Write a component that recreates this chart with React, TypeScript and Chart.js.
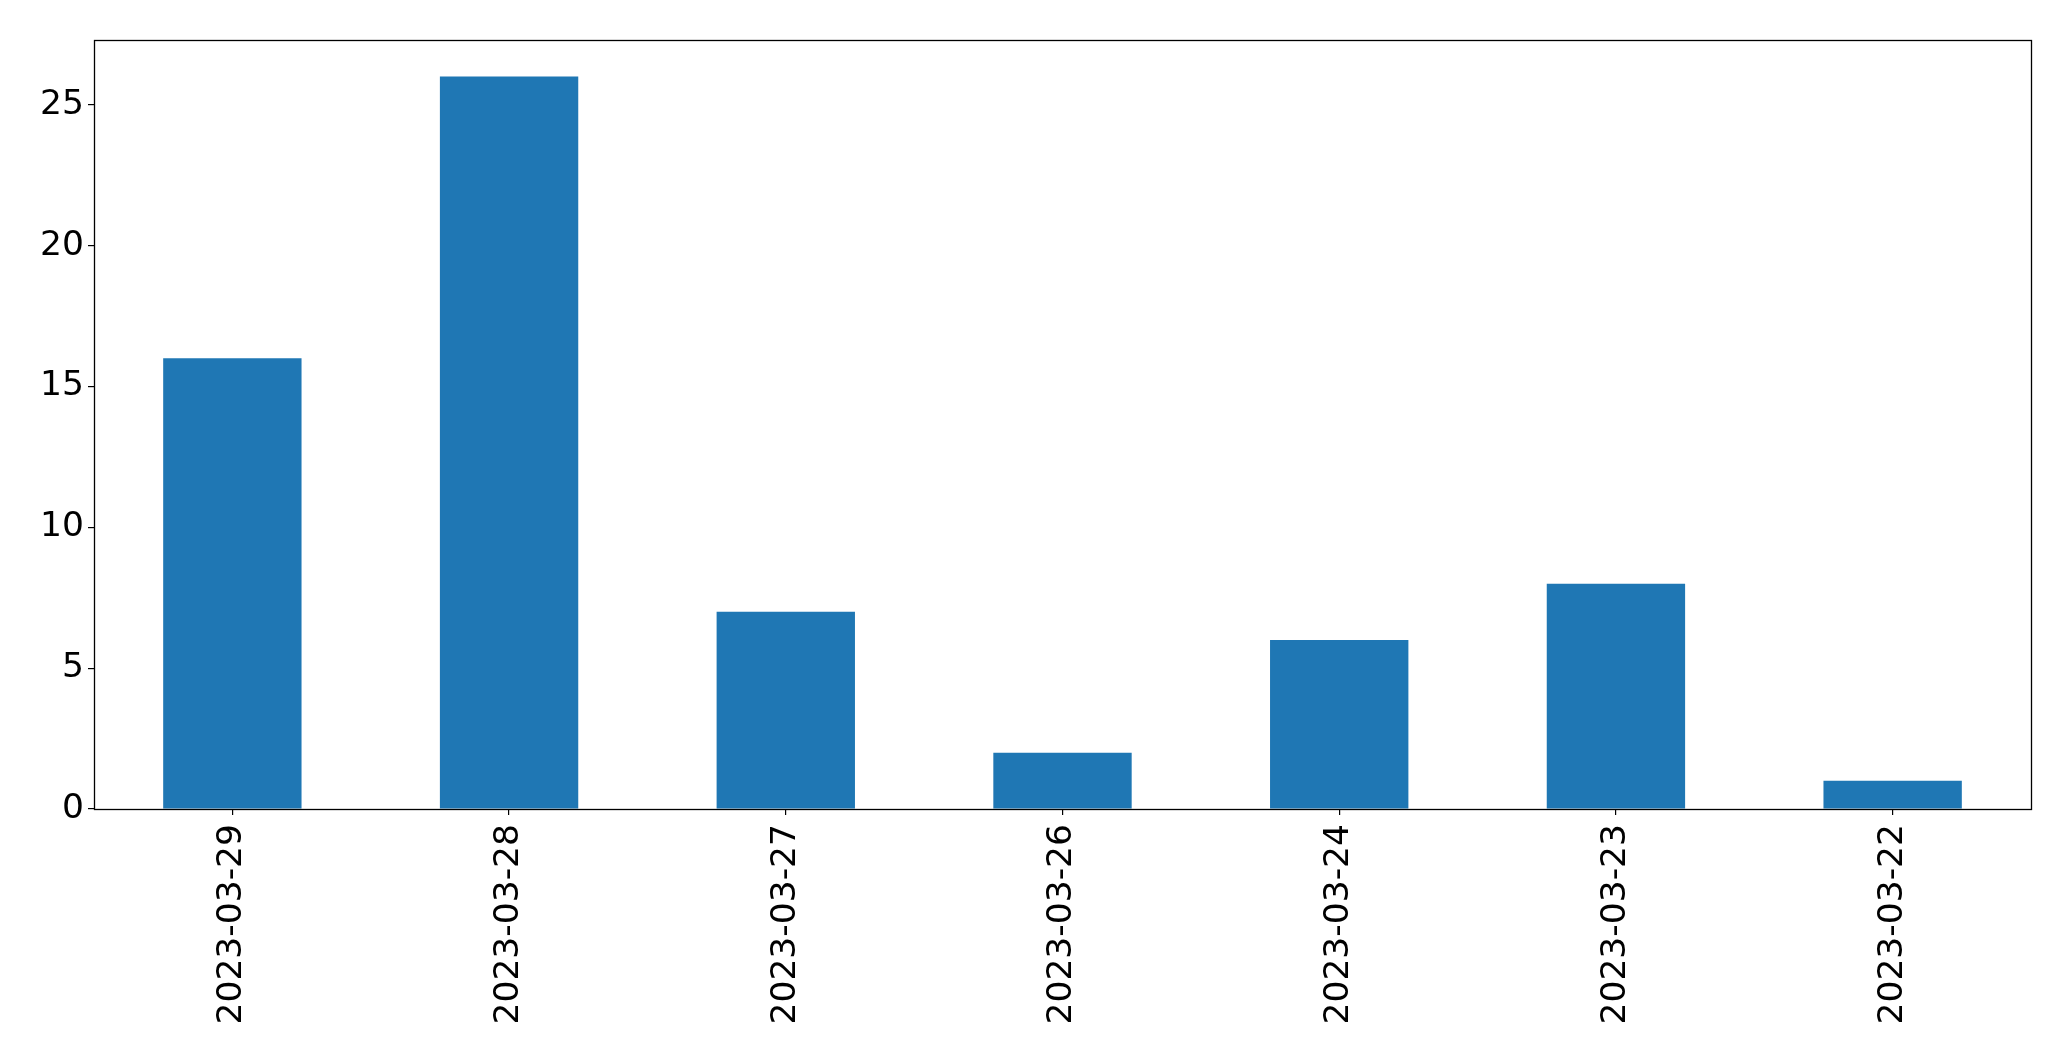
import React, { useEffect, useRef } from "react";
import { Chart, registerables } from "chart.js";

Chart.register(...registerables);

const categories = ["2023-03-29", "2023-03-28", "2023-03-27", "2023-03-26", "2023-03-24", "2023-03-23", "2023-03-22"];
const counts = [16, 26, 7, 2, 6, 8, 1];
const yTicks = [0, 5, 10, 15, 20, 25];
const yMax = 27.3;

const W = 2071;
const H = 1061;

const frame = {
  id: "frame",
  afterDraw(chart: any) {
    const { ctx, chartArea: a } = chart;
    ctx.save();
    ctx.strokeStyle = "#000";
    ctx.lineWidth = 1.3;
    ctx.strokeRect(a.left + 0.5, a.top + 0.5, a.right - a.left, a.bottom - a.top);
    ctx.restore();
  },
};

export default function App() {
  const ref = useRef<HTMLCanvasElement>(null);
  useEffect(() => {
    const font = { family: "'DejaVu Sans', sans-serif", size: 34.5 };
    const chart = new Chart(ref.current!, {
      type: "bar",
      data: {
        labels: categories,
        datasets: [
          {
            data: counts,
            backgroundColor: "#1f77b4",
            borderWidth: 0,
            barPercentage: 0.5,
            categoryPercentage: 1,
          },
        ],
      },
      options: {
        responsive: false,
        animation: false,
        layout: { padding: { top: 40, right: 40, left: 0, bottom: 0 } },
        plugins: { legend: { display: false }, tooltip: { enabled: false } },
        scales: {
          x: {
            grid: { display: true, offset: false, drawOnChartArea: false, drawTicks: true, tickLength: 6, color: "#000", lineWidth: 1.2 },
            border: { display: false },
            ticks: { font, color: "#000", minRotation: 90, maxRotation: 90, padding: 9, autoSkip: false },
            afterFit(scale: any) {
              scale.height = H - 809;
            },
          },
          y: {
            min: 0,
            max: yMax,
            grid: { display: true, drawOnChartArea: false, drawTicks: true, tickLength: 6, color: "#000", lineWidth: 1.2 },
            border: { display: false },
            ticks: { font, color: "#000", padding: 4 },
            afterBuildTicks(scale: any) {
              scale.ticks = yTicks.map((v) => ({ value: v }));
            },
            afterFit(scale: any) {
              scale.width = 94;
            },
          },
        },
      },
      plugins: [frame],
    });
    return () => chart.destroy();
  }, []);
  return (
    <div style={{ position: "fixed", left: 0, top: 0, width: W, height: H, background: "#fff" }}>
      <canvas ref={ref} width={W} height={H} style={{ display: "block" }} />
    </div>
  );
}
